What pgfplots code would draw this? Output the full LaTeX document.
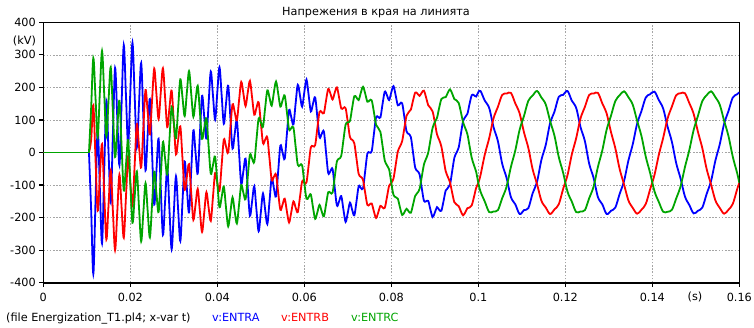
\documentclass[border=0pt]{standalone}
\usepackage{fontspec}
\setmainfont{DejaVu Sans}
\usepackage{pgfplots}
\pgfplotsset{compat=1.18}
\usepackage{pgfplotstable}
\definecolor{cA}{RGB}{0,0,255}
\definecolor{cB}{RGB}{255,0,0}
\definecolor{cC}{RGB}{0,165,0}
\definecolor{gridc}{RGB}{165,165,165}

% before the switch closes (t in ms, kV)
\pgfplotstableread{
t A B C
0 0 0 0
10.5 0 0 0
}\vpre

% after the switch closes: t in ms, voltages in kV
\pgfplotstableread{
t A B C
10.5 0 0 0
11.0 -176 39 137
11.5 -373 145 290
12.0 -150 -19 169
12.5 70 -179 48
13.0 -109 -75 184
13.5 -279 26 312
14.0 -57 -124 181
14.5 159 -267 50
15.0 0 -160 160
15.5 -153 -55 262
16.0 57 -181 124
16.5 260 -300 -14
17.0 109 -184 75
17.5 -39 -68 159
18.0 150 -169 19
18.5 330 -262 -117
19.0 176 -137 -39
19.5 24 -12 38
20.0 185 -93 -93
20.5 337 -166 -216
21.0 176 -39 -137
21.5 16 87 -58
22.0 150 19 -169
22.5 275 -46 -273
23.0 109 75 -184
23.5 -55 192 -94
24.0 57 124 -181
24.5 164 56 -261
25.0 0 160 -160
25.5 -160 258 -59
26.0 -57 181 -124
26.5 42 103 -183
27.0 -109 184 -75
27.5 -253 259 32
28.0 -150 169 -19
28.5 -47 78 -67
29.0 -176 137 39
29.5 -297 190 140
30.0 -185 93 93
30.5 -73 -6 44
31.0 -176 39 137
31.5 -272 80 225
32.0 -150 -19 169
32.5 -28 -115 112
33.0 -109 -75 184
33.5 -184 -36 250
34.0 -57 -124 181
34.5 68 -207 110
35.0 0 -160 160
35.5 -65 -112 205
36.0 57 -181 124
36.5 174 -244 42
37.0 109 -184 75
37.5 43 -122 105
38.0 150 -169 19
38.5 249 -210 -65
39.0 176 -137 -39
39.5 101 -63 -13
40.0 185 -93 -93
40.5 262 -118 -168
41.0 176 -39 -137
41.5 88 40 -105
42.0 150 19 -169
42.5 205 0 -227
43.0 109 75 -184
43.5 12 148 -138
44.0 57 124 -181
44.5 98 99 -218
45.0 0 160 -160
45.5 -96 217 -100
46.0 -57 181 -124
46.5 -19 143 -143
47.0 -109 184 -75
47.5 -194 220 -7
48.0 -150 169 -19
48.5 -104 116 -29
49.0 -176 137 39
49.5 -242 154 104
50.0 -185 93 93
50.5 -126 29 79
51.0 -176 39 137
51.5 -220 46 191
52.0 -150 -19 169
52.5 -78 -83 144
53.0 -109 -75 184
53.5 -135 -68 218
54.0 -57 -124 181
54.5 21 -176 141
55.0 0 -160 160
55.5 -19 -142 175
56.0 57 -181 124
56.5 130 -215 71
57.0 109 -184 75
57.5 86 -150 77
58.0 150 -169 19
58.5 208 -183 -38
59.0 176 -137 -39
59.5 141 -89 -39
60.0 185 -93 -93
60.5 224 -92 -142
61.0 176 -39 -137
61.5 126 16 -129
62.0 150 19 -169
62.5 169 23 -204
63.0 109 75 -184
63.5 47 125 -161
64.0 57 124 -181
64.5 64 121 -196
65.0 0 160 -160
65.5 -63 195 -122
66.0 -57 181 -124
66.5 -51 163 -123
67.0 -109 184 -75
67.5 -163 200 -27
68.0 -150 169 -19
68.5 -134 135 -10
69.0 -176 137 39
69.5 -213 136 86
70.0 -185 93 93
70.5 -154 47 97
71.0 -176 39 137
71.5 -193 28 173
72.0 -150 -19 169
72.5 -104 -66 161
73.0 -109 -75 184
73.5 -110 -84 202
74.0 -57 -124 181
74.5 -3 -161 156
75.0 0 -160 160
75.5 4 -157 160
76.0 57 -181 124
76.5 108 -201 85
77.0 109 -184 75
77.5 108 -164 63
78.0 150 -169 19
78.5 187 -170 -25
79.0 176 -137 -39
79.5 161 -102 -52
80.0 185 -93 -93
80.5 204 -80 -130
81.0 176 -39 -137
81.5 145 3 -142
82.0 150 19 -169
82.5 151 35 -192
83.0 109 75 -184
83.5 65 113 -173
84.0 57 124 -181
84.5 47 132 -185
85.0 0 160 -160
85.5 -47 184 -133
86.0 -57 181 -124
86.5 -67 174 -112
87.0 -109 184 -75
87.5 -148 190 -37
88.0 -150 169 -19
88.5 -149 145 0
89.0 -176 137 39
89.5 -198 126 76
90.0 -185 93 93
90.5 -168 56 106
91.0 -176 39 137
91.5 -179 19 164
92.0 -150 -19 169
92.5 -117 -57 170
93.0 -109 -75 184
93.5 -98 -92 194
94.0 -57 -124 181
94.5 -16 -153 164
95.0 0 -160 160
95.5 16 -165 152
96.0 57 -181 124
96.5 96 -193 93
97.0 109 -184 75
97.5 119 -171 56
98.0 150 -169 19
98.5 176 -162 -17
99.0 176 -137 -39
99.5 172 -109 -59
100.0 185 -93 -93
100.5 189 -70 -120
101.5 159 -6 -151
102.5 137 44 -183
103.5 78 105 -181
104.5 35 140 -177
105.5 -35 177 -140
106.5 -78 181 -105
107.5 -137 183 -44
108.5 -159 151 6
109.5 -189 120 70
110.5 -177 62 112
111.5 -171 14 159
112.5 -125 -52 175
113.5 -90 -97 189
114.5 -23 -148 169
115.5 23 -169 148
116.5 90 -189 97
117.5 125 -175 52
118.5 171 -159 -14
119.5 177 -112 -62
120.5 189 -70 -120
121.5 159 -6 -151
122.5 137 44 -183
123.5 78 105 -181
124.5 35 140 -177
125.5 -35 177 -140
126.5 -78 181 -105
127.5 -137 183 -44
128.5 -159 151 6
129.5 -189 120 70
130.5 -179 63 113
131.5 -169 13 158
132.5 -127 -51 176
133.5 -88 -98 188
134.5 -25 -147 170
135.5 25 -170 147
136.5 88 -188 98
137.5 127 -176 51
138.5 169 -158 -13
139.5 179 -113 -63
140.5 187 -69 -119
141.5 161 -7 -152
142.5 135 45 -182
143.5 80 104 -182
144.5 33 141 -176
145.5 -33 176 -141
146.5 -80 182 -104
147.5 -135 182 -45
148.5 -161 152 7
149.5 -187 119 69
150.5 -179 63 113
151.5 -169 13 158
152.5 -127 -51 176
153.5 -88 -98 188
154.5 -25 -147 170
155.5 25 -170 147
156.5 88 -188 98
157.5 127 -176 51
158.5 169 -158 -13
159.5 179 -113 -63
160 185 -93 -93
}\vdata

\begin{document}
\begin{tikzpicture}
\begin{axis}[
  at={(43.3bp,45.3bp)}, anchor=south west,
  width=696bp, height=260.4bp, scale only axis,
  xmin=0, xmax=160, ymin=-400, ymax=400,
  xtick={0,20,40,60,80,100,120,140,160},
  xticklabels={0,0.02,0.04,0.06,0.08,0.1,0.12,0.14,0.16},
  ytick={-400,-300,-200,-100,0,100,200,300,400},
  yticklabels={-400,-300,-200,-100,0,100,200,300,400},
  /pgf/number format/assume math mode=true,
  xtick pos=bottom, ytick pos=left,
  tick align=outside, major tick length=4bp,
  tick style={black, line width=1.2bp},
  axis line style={black, line width=1.6bp},
  grid=major,
  major grid style={gridc, dash pattern=on 1.6bp off 1.6bp, line width=0.6bp},
  ticklabel style={font=\fontsize{11.3}{13}\selectfont},
  xticklabel style={yshift=-2.5bp},
  clip=true,
]
\addplot[cA, line width=1.8bp] table[x=t,y=A]{\vpre};
\addplot[cA, line width=1.8bp, smooth, tension=0.55] table[x=t,y=A]{\vdata};
\addplot[cB, line width=1.8bp] table[x=t,y=B]{\vpre};
\addplot[cB, line width=1.8bp, smooth, tension=0.55] table[x=t,y=B]{\vdata};
\addplot[cC, line width=1.8bp] table[x=t,y=C]{\vpre};
\addplot[cC, line width=1.8bp, smooth, tension=0.55] table[x=t,y=C]{\vdata};
\end{axis}
\node[anchor=base, font=\fontsize{11.3}{13}\selectfont, inner sep=0pt] at (376bp,312bp) {Напрежения в края на линията};
\node[anchor=base, font=\fontsize{11.3}{13}\selectfont, inner sep=0pt] at (24.5bp,283bp) {(kV)};
\node[anchor=base, font=\fontsize{11.3}{13}\selectfont, inner sep=0pt] at (695bp,28bp) {(s)};
\node[anchor=base west, font=\fontsize{11.3}{13}\selectfont, inner sep=0pt] at (6bp,7bp) {(file Energization\_T1.pl4; x-var t)};
\node[anchor=base west, font=\fontsize{11.3}{13}\selectfont, inner sep=0pt, text=cA] at (212bp,7bp) {v:ENTRA};
\node[anchor=base west, font=\fontsize{11.3}{13}\selectfont, inner sep=0pt, text=cB] at (281bp,7bp) {v:ENTRB};
\node[anchor=base west, font=\fontsize{11.3}{13}\selectfont, inner sep=0pt, text=cC] at (351bp,7bp) {v:ENTRC};
\pgfresetboundingbox
\path[use as bounding box] (0,0) rectangle (754bp,328bp);
\end{tikzpicture}
\end{document}
